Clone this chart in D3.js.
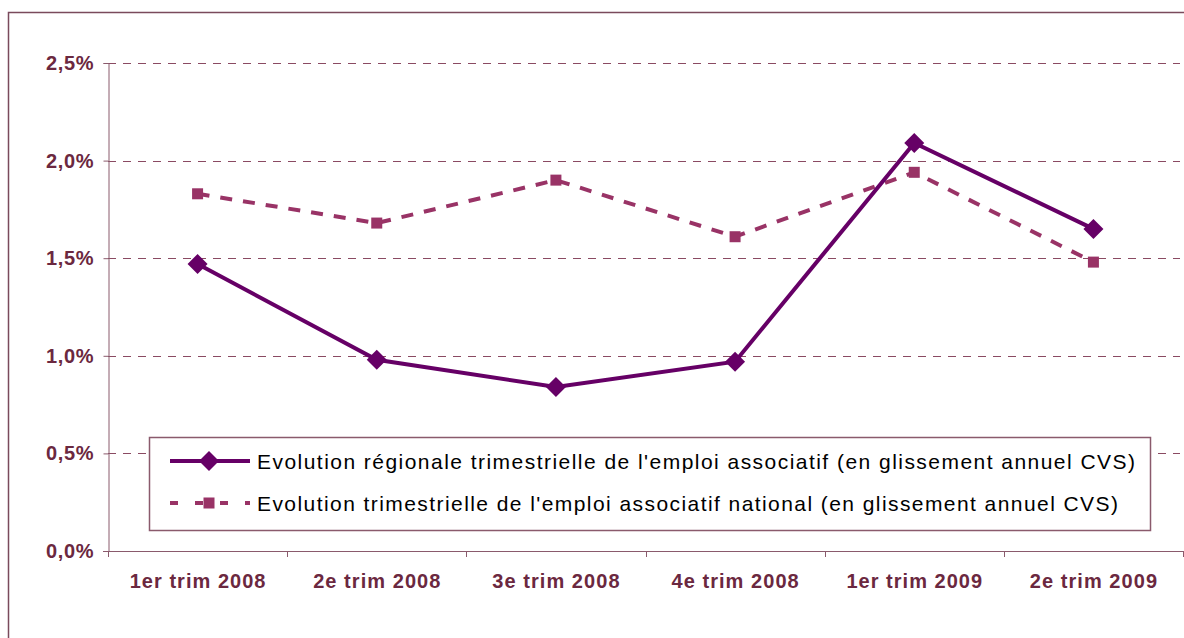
<!DOCTYPE html>
<html>
<head>
<meta charset="utf-8">
<script src="https://cdn.jsdelivr.net/npm/d3@7"></script>
<style>
  body { margin: 0; background: #fff; }
  svg { display: block; font-family: "Liberation Sans", Arial, sans-serif; }
</style>
</head>
<body>
<svg id="chart" width="1184" height="638"></svg>
<script>
const categories = ['1er trim 2008', '2e trim 2008', '3e trim 2008', '4e trim 2008', '1er trim 2009', '2e trim 2009'];
const regional = [1.47, 0.98, 0.84, 0.97, 2.09, 1.65];
const national = [1.83, 1.68, 1.90, 1.61, 1.94, 1.48];
const yTicks = [0, 0.5, 1.0, 1.5, 2.0, 2.5];
const legendLabels = [
  "Evolution régionale trimestrielle de l'emploi associatif (en glissement annuel CVS)",
  "Evolution trimestrielle de l'emploi associatif national (en glissement annuel CVS)",
];

const svg = d3.select('#chart');
const margin = { left: 108, right: 1183, top: 63, bottom: 551 };
const axisColor = '#8a5a6c';
const textColor = '#6b2840';
const regColor = '#660066';
const natColor = '#993366';

// the exported chart has wide letter spacing, stretch text to its measured width
function stretch(sel, ratio) {
  sel.each(function () {
    const w = this.getComputedTextLength();
    d3.select(this).attr('textLength', w * ratio).attr('lengthAdjust', 'spacing');
  });
}

// outer frame (only top and left are visible)
svg.append('path')
  .attr('d', 'M8.5,638 V12.5 H1184')
  .attr('fill', 'none')
  .attr('stroke', '#7a4a5c')
  .attr('stroke-width', 1.5);

const x = d3.scaleBand().domain(categories).range([margin.left, margin.right]);
const y = d3.scaleLinear().domain([0, 2.5]).range([margin.bottom, margin.top]);

// grid lines
svg.append('g')
  .selectAll('line')
  .data(yTicks.filter((d) => d > 0))
  .join('line')
  .attr('x1', margin.left)
  .attr('x2', margin.right - 3)
  .attr('y1', (d) => Math.round(y(d)) + 0.5)
  .attr('y2', (d) => Math.round(y(d)) + 0.5)
  .attr('stroke', '#8a4a62')
  .attr('stroke-width', 1)
  .attr('stroke-dasharray', '8,7');

// y axis
const yAxis = svg.append('g')
  .attr('transform', `translate(${margin.left + 0.5},0)`)
  .call(d3.axisLeft(y).tickValues(yTicks).tickSize(5).tickPadding(10)
    .tickFormat((d) => d3.format('.1f')(d).replace('.', ',') + '%'));
yAxis.selectAll('.domain, line').attr('stroke', axisColor);
yAxis.selectAll('text')
  .attr('fill', textColor)
  .attr('font-size', 20)
  .attr('font-weight', 'bold')
  .attr('font-family', '"Liberation Sans", Arial, sans-serif')
  .call(stretch, 1.04);

// x axis
const xAxis = svg.append('g')
  .attr('transform', `translate(0,${margin.bottom + 0.5})`)
  .call(d3.axisBottom(x).tickSize(0).tickPadding(22));
xAxis.select('.domain').attr('stroke', axisColor).attr('d', `M${margin.left - 5},0H${margin.right}`);
xAxis.selectAll('text')
  .attr('fill', textColor)
  .attr('font-size', 20)
  .attr('font-weight', 'bold')
  .attr('font-family', '"Liberation Sans", Arial, sans-serif')
  .call(stretch, 1.1);
const bounds = categories.map((c) => x(c)).concat([margin.right]);
svg.append('g')
  .selectAll('line')
  .data(bounds)
  .join('line')
  .attr('x1', (d) => Math.round(d) + 0.5)
  .attr('x2', (d) => Math.round(d) + 0.5)
  .attr('y1', margin.bottom)
  .attr('y2', margin.bottom + 6)
  .attr('stroke', axisColor);

const cx = (i) => x(categories[i]) + x.bandwidth() / 2;
const line = d3.line().x((d, i) => cx(i)).y((d) => y(d));

// national series (dashed, squares)
svg.append('path')
  .datum(national)
  .attr('d', line)
  .attr('fill', 'none')
  .attr('stroke', natColor)
  .attr('stroke-width', 4)
  .attr('stroke-dasharray', '12,11');
svg.append('g')
  .selectAll('rect')
  .data(national)
  .join('rect')
  .attr('x', (d, i) => cx(i) - 5.5)
  .attr('y', (d) => y(d) - 5.5)
  .attr('width', 11)
  .attr('height', 11)
  .attr('fill', natColor);

// regional series (solid, diamonds)
const diamond = 'M0,-10L10,0L0,10L-10,0Z';
svg.append('path')
  .datum(regional)
  .attr('d', line)
  .attr('fill', 'none')
  .attr('stroke', regColor)
  .attr('stroke-width', 4);
svg.append('g')
  .selectAll('path')
  .data(regional)
  .join('path')
  .attr('transform', (d, i) => `translate(${cx(i)},${y(d)})`)
  .attr('d', diamond)
  .attr('fill', regColor);

// legend
const legend = svg.append('g');
legend.append('rect')
  .attr('x', 149.5)
  .attr('y', 437.5)
  .attr('width', 1001)
  .attr('height', 93)
  .attr('fill', '#fff')
  .attr('stroke', '#8a5a6c')
  .attr('stroke-width', 1.5);

const rows = [
  { color: regColor, dash: null, mark: 'diamond', yy: 461, width: 878 },
  { color: natColor, dash: '8,17', mark: 'square', yy: 503, width: 861 },
];
rows.forEach((r, i) => {
  const g = legend.append('g');
  g.append('line')
    .attr('x1', 170).attr('x2', 250)
    .attr('y1', r.yy).attr('y2', r.yy)
    .attr('stroke', r.color)
    .attr('stroke-width', 4)
    .attr('stroke-dasharray', r.dash);
  if (r.mark === 'diamond') {
    g.append('path')
      .attr('transform', `translate(209,${r.yy})`)
      .attr('d', diamond)
      .attr('fill', r.color);
  } else {
    g.append('rect')
      .attr('x', 203.5).attr('y', r.yy - 5.5)
      .attr('width', 11).attr('height', 11)
      .attr('fill', r.color);
  }
  g.append('text')
    .attr('x', 257)
    .attr('y', r.yy + 7.5)
    .attr('font-size', 21)
    .attr('fill', '#000')
    .attr('textLength', r.width)
    .attr('lengthAdjust', 'spacing')
    .text(legendLabels[i]);
});
</script>
</body>
</html>
